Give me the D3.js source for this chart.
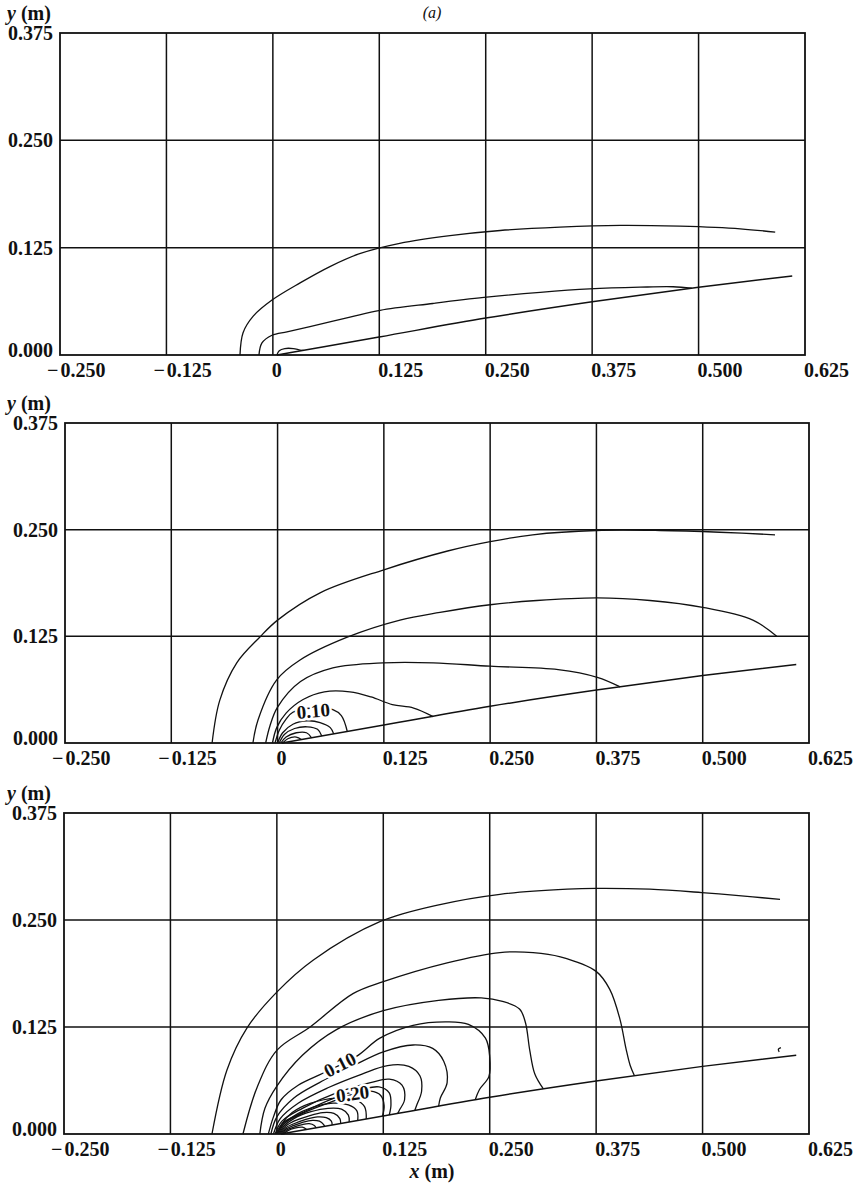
<!DOCTYPE html>
<html>
<head>
<meta charset="utf-8">
<script src="https://cdn.jsdelivr.net/npm/d3@7"></script>
<style>
  html, body { margin: 0; padding: 0; background: #fff; }
  svg { display: block; }
  .tick { font-family: "Liberation Serif", "Times New Roman", serif; font-weight: bold; font-size: 20px; fill: #111; }
  .clabel { font-family: "Liberation Serif", "Times New Roman", serif; font-weight: bold; font-size: 19px; fill: #111;
            stroke: #fff; stroke-width: 5px; paint-order: stroke; stroke-linejoin: round; }
</style>
</head>
<body>
<script>
// ---- axis ticks ----
const xTicks = [-0.25, -0.125, 0, 0.125, 0.25, 0.375, 0.5, 0.625];
const xTickLabels = ["0.250", "0.125", "0", "0.125", "0.250", "0.375", "0.500", "0.625"];
const yTicks = [0, 0.125, 0.25, 0.375];
const yTickLabels = ["0.000", "0.125", "0.250", "0.375"];

// ---- sloping surface (same in all three panels), [x (m), y (m)] ----
const surface = [[0.005, 0], [0.06, 0.0096], [0.125, 0.021], [0.25, 0.043], [0.375, 0.062], [0.5, 0.079], [0.61, 0.092]];

// ---- panel 1 isolines ----
const p1c1 = [[-0.0386, 0], [-0.035, 0.026], [-0.0233, 0.045], [-0.001, 0.064], [0.032, 0.084], [0.067, 0.103], [0.102, 0.118], [0.149, 0.130], [0.208, 0.139], [0.267, 0.145], [0.337, 0.149], [0.408, 0.151], [0.478, 0.150], [0.549, 0.147], [0.59, 0.143]];
const p1c2 = [[-0.0163, 0], [-0.0128, 0.014], [-0.001, 0.023], [0.0166, 0.027], [0.0436, 0.033], [0.0906, 0.044], [0.126, 0.052], [0.188, 0.060], [0.248, 0.067], [0.314, 0.073], [0.372, 0.077], [0.431, 0.079], [0.47, 0.0795], [0.492, 0.0778]];
const p1c3 = [[0.0047, 0], [0.0075, 0.005], [0.014, 0.0075], [0.024, 0.0075], [0.032, 0.0058], [0.036, 0.0054]];

// ---- panel 2 isolines ----
const p2c1 = [[-0.077, 0], [-0.068, 0.05], [-0.048, 0.094], [-0.021, 0.124], [0.0, 0.144], [0.05, 0.176], [0.125, 0.203], [0.2, 0.225], [0.25, 0.236], [0.3, 0.244], [0.375, 0.249], [0.45, 0.249], [0.52, 0.247], [0.585, 0.244]];
const p2c2 = [[-0.029, 0], [-0.023, 0.027], [-0.001, 0.074], [0.026, 0.097], [0.082, 0.124], [0.144, 0.144], [0.191, 0.153], [0.25, 0.162], [0.305, 0.167], [0.376, 0.170], [0.438, 0.167], [0.5, 0.159], [0.559, 0.144], [0.587, 0.125]];
const p2c3 = [[-0.014, 0], [-0.009, 0.02], [0.0, 0.042], [0.027, 0.072], [0.065, 0.088], [0.124, 0.094], [0.183, 0.094], [0.25, 0.09], [0.33, 0.086], [0.376, 0.077], [0.403, 0.0658]];
const p2c4 = [[-0.006, 0], [-0.001, 0.018], [0.01, 0.035], [0.03, 0.051], [0.055, 0.06], [0.085, 0.06], [0.11, 0.054], [0.135, 0.045], [0.16, 0.041], [0.183, 0.031]];
const p2c5 = [[-0.003, 0], [0.002, 0.015], [0.01, 0.028], [0.018, 0.036], [0.042, 0.041], [0.065, 0.039], [0.075, 0.032], [0.082, 0.0135]];
const p2c6 = [[0.0, 0], [0.006, 0.012], [0.018, 0.022], [0.035, 0.026], [0.05, 0.024], [0.062, 0.018], [0.066, 0.0107]];
const p2c7 = [[0.002, 0], [0.008, 0.01], [0.02, 0.017], [0.035, 0.019], [0.047, 0.016], [0.052, 0.0082]];
const p2c8 = [[0.004, 0], [0.01, 0.007], [0.022, 0.012], [0.034, 0.012], [0.04, 0.0061]];
const p2c9 = [[0.006, 0], [0.012, 0.005], [0.022, 0.007], [0.028, 0.004]];

// ---- panel 3 isolines ----
const p3c1 = [[-0.0762, 0], [-0.0586, 0.0748], [-0.035, 0.124], [0.0002, 0.166], [0.0425, 0.203], [0.121, 0.248], [0.1916, 0.268], [0.262, 0.280], [0.341, 0.286], [0.375, 0.287], [0.438, 0.286], [0.499, 0.282], [0.559, 0.277], [0.591, 0.274]];
const p3c2 = [[-0.0398, 0], [-0.023, 0.055], [0.0002, 0.098], [0.039, 0.125], [0.0894, 0.164], [0.125, 0.178], [0.2, 0.20], [0.262, 0.212], [0.301, 0.212], [0.333, 0.207], [0.375, 0.190], [0.391, 0.169], [0.403, 0.134], [0.41, 0.10], [0.415, 0.080], [0.42, 0.068]];
const p3c3 = [[-0.02, 0], [-0.014, 0.03], [0.0, 0.056], [0.03, 0.092], [0.07, 0.122], [0.125, 0.144], [0.19, 0.156], [0.24, 0.159], [0.265, 0.155], [0.285, 0.146], [0.292, 0.13], [0.297, 0.098], [0.303, 0.07], [0.313, 0.0526]];
const p3c4 = [[-0.01, 0], [-0.004, 0.02], [0.005, 0.04], [0.025, 0.057], [0.054, 0.071], [0.094, 0.091], [0.121, 0.112], [0.16, 0.127], [0.2, 0.131], [0.225, 0.128], [0.245, 0.112], [0.25, 0.09], [0.249, 0.067], [0.238, 0.052], [0.233, 0.040]];
const p3c5 = [[-0.007, 0], [0.0, 0.02], [0.02, 0.042], [0.05, 0.06], [0.09, 0.08], [0.125, 0.096], [0.16, 0.104], [0.183, 0.1], [0.196, 0.085], [0.2, 0.06], [0.192, 0.042], [0.19, 0.0324]];
const p3c6 = [[-0.004, 0], [0.004, 0.018], [0.025, 0.036], [0.06, 0.054], [0.1, 0.07], [0.13, 0.08], [0.155, 0.079], [0.168, 0.068], [0.17, 0.05], [0.164, 0.033], [0.162, 0.0275]];
const p3c7 = [[-0.002, 0], [0.006, 0.015], [0.03, 0.03], [0.07, 0.048], [0.11, 0.06], [0.132, 0.064], [0.147, 0.057], [0.15, 0.04], [0.144, 0.028], [0.142, 0.0241]];
const p3c8 = [[-0.001, 0], [0.007, 0.013], [0.03, 0.025], [0.065, 0.041], [0.1, 0.052], [0.12, 0.055], [0.132, 0.048], [0.134, 0.034], [0.132, 0.0222]];
const p3c9 = [[0.0, 0], [0.008, 0.012], [0.03, 0.024], [0.06, 0.036], [0.088, 0.046], [0.11, 0.05], [0.122, 0.045], [0.126, 0.033], [0.124, 0.0208]];
const p3i1 = [[0.001, 0], [0.006, 0.012], [0.018, 0.025], [0.04, 0.036], [0.07, 0.042], [0.092, 0.04], [0.103, 0.032], [0.105, 0.0175]];
const p3i2 = [[0.002, 0], [0.007, 0.01], [0.02, 0.021], [0.042, 0.031], [0.066, 0.036], [0.084, 0.034], [0.094, 0.027], [0.095, 0.0158]];
const p3i3 = [[0.003, 0], [0.008, 0.009], [0.02, 0.018], [0.04, 0.026], [0.06, 0.03], [0.076, 0.029], [0.084, 0.022], [0.085, 0.014]];
const p3i4 = [[0.004, 0], [0.009, 0.008], [0.02, 0.015], [0.037, 0.021], [0.054, 0.025], [0.067, 0.024], [0.074, 0.018], [0.075, 0.0123]];
const p3i5 = [[0.005, 0], [0.01, 0.007], [0.02, 0.012], [0.034, 0.017], [0.048, 0.02], [0.058, 0.019], [0.064, 0.015], [0.065, 0.0105]];
const p3i6 = [[0.006, 0], [0.011, 0.006], [0.02, 0.01], [0.031, 0.014], [0.042, 0.016], [0.05, 0.015], [0.055, 0.011], [0.056, 0.009]];
const p3i7 = [[0.007, 0], [0.012, 0.005], [0.02, 0.008], [0.03, 0.011], [0.038, 0.012], [0.044, 0.01], [0.046, 0.0072]];
const p3i8 = [[0.008, 0], [0.013, 0.004], [0.021, 0.007], [0.03, 0.008], [0.035, 0.0053]];
const p3tail = [[0.592, 0.101], [0.589, 0.099], [0.59, 0.096]];

// ---- isoline labels: [x, y, rotation deg, text] ----
const p2labels = [[0.042, 0.0375, -5, "0.10"]];
const p3labels = [[0.074, 0.081, -27, "0.10"], [0.089, 0.047, -8, "0.20"]];

// ---- panel frames (pixels) ----
const panels = [
  { left: 60, right: 805, top: 33, bottom: 355, lines: [p1c1, p1c2, p1c3], labels: [] },
  { left: 65, right: 809, top: 423, bottom: 743, lines: [p2c1, p2c2, p2c3, p2c4, p2c5, p2c6, p2c7, p2c8, p2c9], labels: p2labels },
  { left: 64, right: 809, top: 813, bottom: 1134,
    lines: [p3c1, p3c2, p3c3, p3c4, p3c5, p3c6, p3c7, p3c8, p3c9, p3i1, p3i2, p3i3, p3i4, p3i5, p3i6, p3i7, p3i8, p3tail],
    labels: p3labels }
];

const W = 853, H = 1188;
const svg = d3.select("body").append("svg").attr("width", W).attr("height", H);

panels.forEach((p, i) => {
  const x = d3.scaleLinear().domain([-0.25, 0.625]).range([p.left, p.right]);
  const y = d3.scaleLinear().domain([0, 0.375]).range([p.bottom, p.top]);
  const g = svg.append("g");

  // grid
  g.selectAll("line.vx").data(xTicks.slice(1, -1)).join("line")
    .attr("x1", d => x(d)).attr("x2", d => x(d)).attr("y1", p.top).attr("y2", p.bottom)
    .attr("stroke", "#111").attr("stroke-width", 1.5);
  g.selectAll("line.hy").data(yTicks.slice(1, -1)).join("line")
    .attr("y1", d => y(d)).attr("y2", d => y(d)).attr("x1", p.left).attr("x2", p.right)
    .attr("stroke", "#111").attr("stroke-width", 1.5);
  g.append("rect").attr("x", p.left).attr("y", p.top)
    .attr("width", p.right - p.left).attr("height", p.bottom - p.top)
    .attr("fill", "none").attr("stroke", "#111").attr("stroke-width", 1.8);

  // isolines
  const line = d3.line().x(d => x(d[0])).y(d => y(d[1])).curve(d3.curveCatmullRom.alpha(0.5));
  g.append("path").datum(surface)
    .attr("d", d3.line().x(d => x(d[0])).y(d => y(d[1])).curve(d3.curveMonotoneX))
    .attr("fill", "none").attr("stroke", "#111").attr("stroke-width", 1.5);
  g.selectAll("path.iso").data(p.lines).join("path")
    .attr("class", "iso").attr("d", line)
    .attr("fill", "none").attr("stroke", "#111").attr("stroke-width", 1.3);

  g.selectAll("text.clabel").data(p.labels).join("text")
    .attr("class", "clabel")
    .attr("transform", d => `translate(${x(d[0])},${y(d[1])}) rotate(${d[2]})`)
    .attr("text-anchor", "middle").attr("dominant-baseline", "central")
    .text(d => d[3]);

  // x tick labels
  xTicks.forEach((t, k) => {
    const tx = g.append("text").attr("class", "tick").attr("y", p.bottom + 22);
    if (t < 0) {
      tx.attr("x", x(t) - 13);
      tx.append("tspan").text("\u2212");
      tx.append("tspan").attr("dx", 2).text(xTickLabels[k]);
    } else {
      tx.attr("x", x(t) - 1).text(xTickLabels[k]);
    }
  });

  // y tick labels
  yTicks.forEach((t, k) => {
    g.append("text").attr("class", "tick")
      .attr("x", p.left - 7).attr("y", y(t) + (t === 0 ? 2 : 7))
      .attr("text-anchor", "end").text(yTickLabels[k]);
  });

  // y axis title
  const yt = g.append("text").attr("class", "tick").attr("x", 7).attr("y", p.top - 13);
  yt.append("tspan").attr("font-style", "italic").text("y");
  yt.append("tspan").text(" (m)");
});

// panel tag and x axis title
svg.append("text").attr("x", 432).attr("y", 18).attr("text-anchor", "middle")
  .attr("font-family", "Liberation Serif, serif").attr("font-style", "italic")
  .attr("font-size", 16).attr("fill", "#111").text("(a)");
const xt = svg.append("text").attr("class", "tick").attr("x", 432).attr("y", 1178).attr("text-anchor", "middle");
xt.append("tspan").attr("font-style", "italic").text("x");
xt.append("tspan").text(" (m)");
</script>
</body>
</html>
